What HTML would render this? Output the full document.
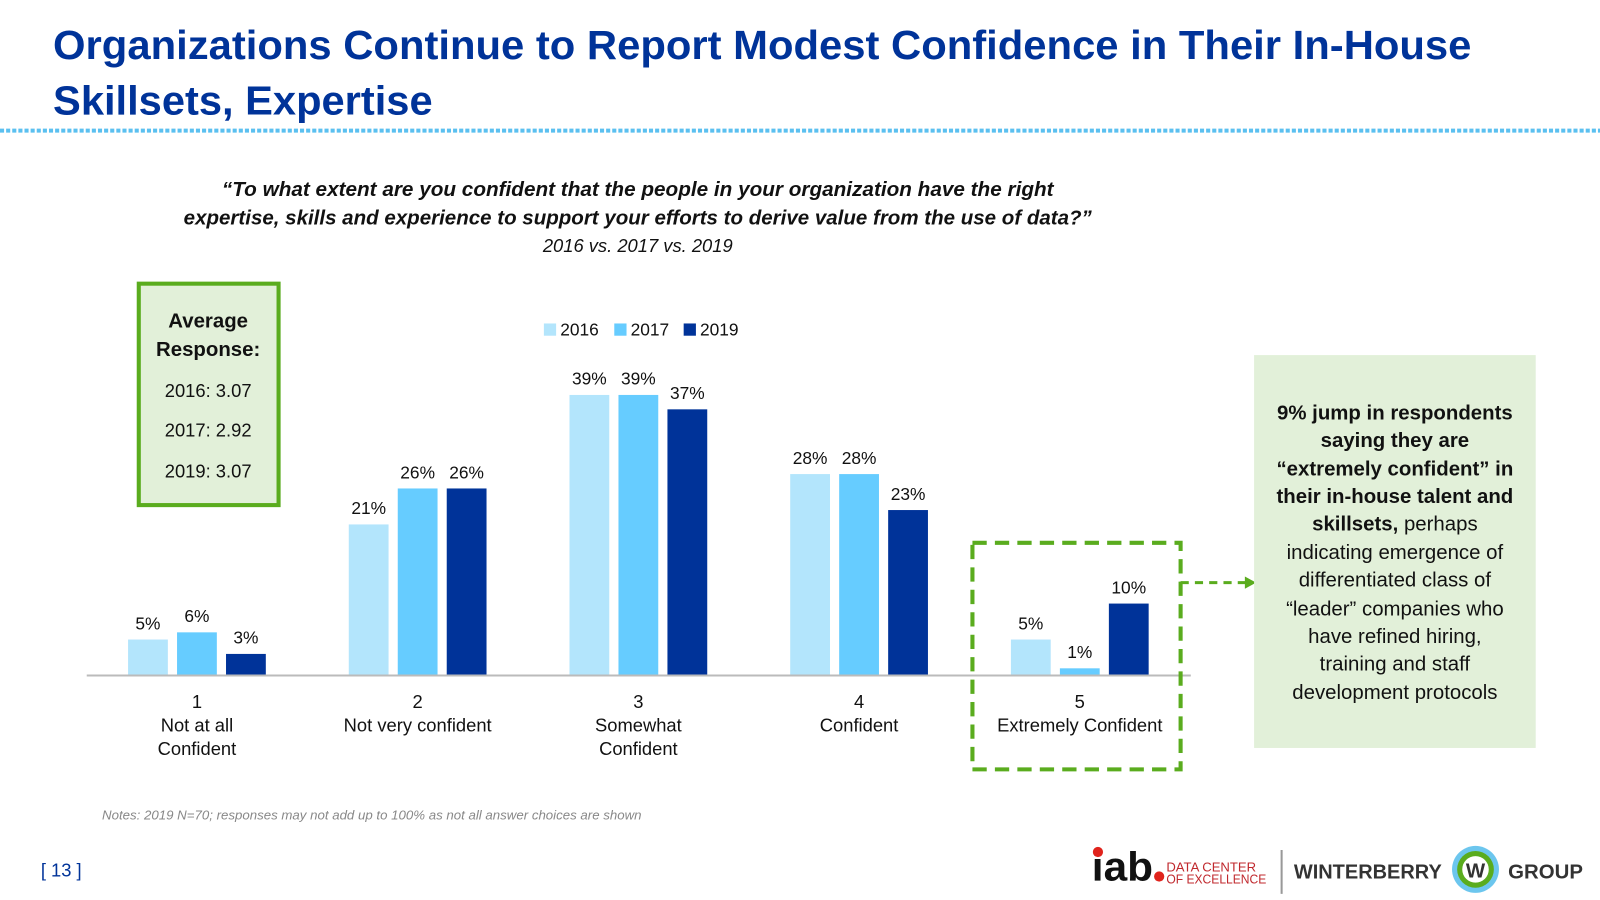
<!DOCTYPE html>
<html><head><meta charset="utf-8"><style>
body{margin:0;background:#fff;}
svg{display:block;font-family:"Liberation Sans",sans-serif;}
</style></head><body>
<svg id="chart" width="1600" height="900" viewBox="0 0 1600 900">
<g transform="scale(1.0204)">
<text x="52" y="58" font-size="40" font-weight="bold" fill="#003399" textLength="1390" lengthAdjust="spacingAndGlyphs">Organizations Continue to Report Modest Confidence in Their In-House</text>
<text x="52" y="112" font-size="40" font-weight="bold" fill="#003399" textLength="372" lengthAdjust="spacingAndGlyphs">Skillsets, Expertise</text>
<line x1="0" y1="128" x2="1600" y2="128" stroke="#5bc0f0" stroke-width="4" stroke-dasharray="4,2"/>
<g font-style="italic" text-anchor="middle" fill="#111">
<text x="625" y="192" font-size="20" font-weight="bold" textLength="815" lengthAdjust="spacingAndGlyphs">“To what extent are you confident that the people in your organization have the right</text>
<text x="625" y="220" font-size="20" font-weight="bold" textLength="890" lengthAdjust="spacingAndGlyphs">expertise, skills and experience to support your efforts to derive value from the use of data?”</text>
<text x="625" y="247" font-size="18">2016 vs. 2017 vs. 2019</text>
</g>
<g>
<rect x="136" y="278" width="137" height="217" fill="#e2f0d9" stroke="#5aac1e" stroke-width="4"/>
<text x="204" y="321" text-anchor="middle" font-size="20" font-weight="bold" fill="#111">Average</text>
<text x="204" y="349" text-anchor="middle" font-size="20" font-weight="bold" fill="#111">Response:</text>
<text x="204" y="389" text-anchor="middle" font-size="18" fill="#111">2016: 3.07</text>
<text x="204" y="428" text-anchor="middle" font-size="18" fill="#111">2017: 2.92</text>
<text x="204" y="468" text-anchor="middle" font-size="18" fill="#111">2019: 3.07</text>
</g>
<g id="legend"></g>
<g id="bars"></g>
<line x1="85" y1="662" x2="1167" y2="662" stroke="#bbb" stroke-width="2"/>
<g id="xlabels"></g>
<rect x="953" y="532" width="204" height="222" fill="none" stroke="#5aac1e" stroke-width="4" stroke-dasharray="14,8"/>
<line x1="1157" y1="571" x2="1222" y2="571" stroke="#5aac1e" stroke-width="3" stroke-dasharray="8,6"/>
<polygon points="1220,565 1231,571 1220,577" fill="#5aac1e"/>
<g text-anchor="middle" font-size="20" fill="#111">
<rect x="1229" y="348" width="276" height="385" fill="#e2f0d9"/>
<text x="1367" y="411" font-weight="bold">9% jump in respondents</text>
<text x="1367" y="438" font-weight="bold">saying they are</text>
<text x="1367" y="466" font-weight="bold">“extremely confident” in</text>
<text x="1367" y="493" font-weight="bold">their in-house talent and</text>
<text x="1367" y="520"><tspan font-weight="bold">skillsets,</tspan> perhaps</text>
<text x="1367" y="548">indicating emergence of</text>
<text x="1367" y="575">differentiated class of</text>
<text x="1367" y="603">“leader” companies who</text>
<text x="1367" y="630">have refined hiring,</text>
<text x="1367" y="657">training and staff</text>
<text x="1367" y="685">development protocols</text>
</g>
<text x="100" y="803" font-size="13" font-style="italic" fill="#888">Notes: 2019 N=70; responses may not add up to 100% as not all answer choices are shown</text>
<text x="40" y="859" font-size="18" fill="#003399">[ 13 ]</text>
<g>
<text x="1070" y="863" font-size="40" font-weight="bold" fill="#111" textLength="60" lengthAdjust="spacingAndGlyphs">iab</text>
<circle cx="1076" cy="835" r="5" fill="#e0231c"/>
<circle cx="1136" cy="859" r="5" fill="#e0231c"/>
<text x="1143" y="854" font-size="13" fill="#c0282d" textLength="88" lengthAdjust="spacingAndGlyphs">DATA CENTER</text>
<text x="1143" y="866" font-size="13" fill="#c0282d" textLength="98" lengthAdjust="spacingAndGlyphs">OF EXCELLENCE</text>
</g>
<line x1="1256" y1="833" x2="1256" y2="876" stroke="#999" stroke-width="2"/>
<g>
<text x="1268" y="861" font-size="20" font-weight="bold" fill="#333" textLength="145" lengthAdjust="spacingAndGlyphs">WINTERBERRY</text>
<circle cx="1446" cy="852" r="23" fill="#6cc6ee"/>
<circle cx="1446" cy="852" r="18" fill="#5aac1e"/>
<circle cx="1446" cy="852" r="13" fill="#fff"/>
<text x="1446" y="860" font-size="20" font-weight="bold" fill="#333" text-anchor="middle">W</text>
<text x="1478" y="861" font-size="20" font-weight="bold" fill="#333">GROUP</text>
</g>
</g>
</svg>
<script>
const categories = ["1|Not at all|Confident","2|Not very confident","3|Somewhat|Confident","4|Confident","5|Extremely Confident"];
const seriesNames = ["2016","2017","2019"];
const v2016 = [5,21,39,28,5];
const v2017 = [6,26,39,28,1];
const v2019 = [3,26,37,23,10];
const series = [v2016, v2017, v2019];
const colors = ["#b3e5fc","#66ccff","#003399"];
const NS = "http://www.w3.org/2000/svg";
const baseY = 662, pxPer = 7.05, x0 = 193, step = 216.3, bw = 39, gap = 48;
function yScale(v){ return baseY - v*pxPer; }
function xCenter(i){ return x0 + i*step; }
function mk(tag, attrs, parent){ const e=document.createElementNS(NS,tag); for(const k in attrs) e.setAttribute(k,attrs[k]); parent.appendChild(e); return e; }
const bars = document.getElementById('bars');
series.forEach((s, si) => {
  s.forEach((v, i) => {
    const cx = xCenter(i) + (si-1)*gap;
    const r = mk('rect', {x: cx-bw/2, y: yScale(v), width: bw, height: baseY - yScale(v), fill: colors[si]}, bars);
    
    
    const t = mk('text', {x: cx, y: yScale(v) - 10, 'text-anchor': 'middle', 'font-size': 17, fill: '#111'}, bars);
    t.textContent = v + '%';
    
    
  });
});
const xl = document.getElementById('xlabels');
categories.forEach((c, i) => {
  c.split('|').forEach((line, li) => {
    const t = mk('text', {x: xCenter(i), y: 694 + li*23, 'text-anchor': 'middle', 'font-size': 18, fill: '#111'}, xl);
    t.textContent = line;
    
    
  });
});
const lg = document.getElementById('legend');
const lx = [533, 602, 670];
seriesNames.forEach((n, i) => {
  const r = mk('rect', {x: lx[i], y: 317, width: 12, height: 12, fill: colors[i]}, lg);
  
  
  const t = mk('text', {x: lx[i]+16, y: 329, 'font-size': 17, fill: '#111'}, lg);
  t.textContent = n;
  
  
});
</script>
</body></html>
